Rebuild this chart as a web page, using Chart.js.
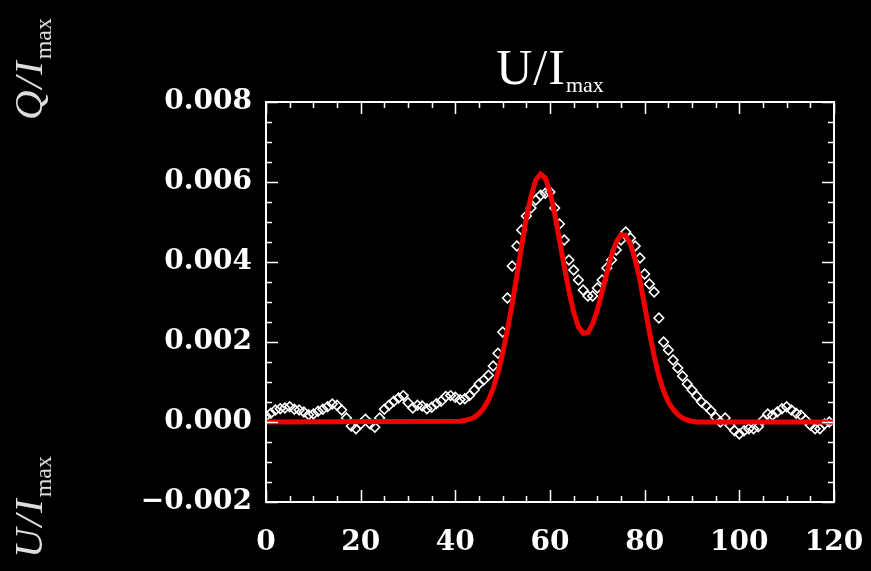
<!DOCTYPE html>
<html>
<head>
<meta charset="utf-8">
<script src="https://cdn.jsdelivr.net/npm/chart.js@4.4.1"></script>
<style>
  html, body { margin: 0; padding: 0; background: #000; }
  #wrap { position: relative; width: 871px; height: 571px; overflow: hidden; background: #000; }
  #chart { position: absolute; left: 0; top: 0; }
  .title {
    position: absolute; left: 266px; width: 568px; top: 42px; text-align: center;
    color: #fff; font-family: 'Liberation Serif', serif; font-size: 50px; line-height: 1;
    letter-spacing: 1px;
  }
  .title sub { font-size: 22px; vertical-align: -8px; letter-spacing: 0; }
  .side {
    position: absolute; transform: rotate(-90deg); transform-origin: 0 0;
    color: #ddd; font-family: 'Liberation Serif', serif; font-style: italic;
    font-size: 41px; line-height: 1; white-space: nowrap; letter-spacing: 2px;
  }
  .side sub { font-style: normal; font-size: 24px; vertical-align: -9px; letter-spacing: 0; }
</style>
</head>
<body>
<div id="wrap">
  <canvas id="chart" width="871" height="571"></canvas>
  <div class="title">U/I<sub>max</sub></div>
  <div class="side" style="left:8px; top:120px;">Q/I<sub>max</sub></div>
  <div class="side" style="left:8px; top:558px;">U/I<sub>max</sub></div>
</div>
<script>
  // observed U/Imax (diamonds), one per pixel position
  var obsX = [
    0, 1, 2, 3, 4, 5, 6, 7, 8, 9, 10, 11, 12, 13, 14, 15, 16, 17, 18, 19,
    20, 21, 22, 23, 24, 25, 26, 27, 28, 29, 30, 31, 32, 33, 34, 35, 36, 37, 38, 39,
    40, 41, 42, 43, 44, 45, 46, 47, 48, 49, 50, 51, 52, 53, 54, 55, 56, 57, 58, 59,
    60, 61, 62, 63, 64, 65, 66, 67, 68, 69, 70, 71, 72, 73, 74, 75, 76, 77, 78, 79,
    80, 81, 82, 83, 84, 85, 86, 87, 88, 89, 90, 91, 92, 93, 94, 95, 96, 97, 98, 99,
    100, 101, 102, 103, 104, 105, 106, 107, 108, 109, 110, 111, 112, 113, 114, 115, 116, 117, 118, 119
  ];
  var obsU = [
    0.00015, 0.00022, 0.00030, 0.00033, 0.00035, 0.00038, 0.00032, 0.00030, 0.00025, 0.00018,
    0.00020, 0.00027, 0.00032, 0.00038, 0.00045, 0.00042, 0.00030, 0.00010, -0.00010, -0.00017,
    -0.00005, 0.00007, -0.00005, -0.00013, 0.00010, 0.00032, 0.00042, 0.00052, 0.00060, 0.00066,
    0.00048, 0.00035, 0.00042, 0.00040, 0.00033, 0.00037, 0.00046, 0.00052, 0.00064, 0.00066,
    0.00062, 0.00056, 0.00058, 0.00066, 0.00080, 0.00095, 0.00105, 0.00117, 0.00140, 0.00172,
    0.00225, 0.00310, 0.00390, 0.00440, 0.00480, 0.00515, 0.00535, 0.00555, 0.00567, 0.00572,
    0.00575, 0.00535, 0.00495, 0.00455, 0.00405, 0.00380, 0.00355, 0.00330, 0.00315, 0.00315,
    0.00335, 0.00355, 0.00385, 0.00405, 0.00430, 0.00455, 0.00475, 0.00460, 0.00440, 0.00410,
    0.00370, 0.00345, 0.00325, 0.00260, 0.00200, 0.00180, 0.00155, 0.00135, 0.00115, 0.00095,
    0.00080, 0.00065, 0.00050, 0.00040, 0.00028, 0.00012, 0.00000, 0.00010, -0.00008, -0.00022,
    -0.00030, -0.00022, -0.00017, -0.00017, -0.00012, 0.00005, 0.00020, 0.00017, 0.00025, 0.00033,
    0.00038, 0.00030, 0.00022, 0.00017, 0.00005, -0.00008, -0.00017, -0.00017, -0.00005, 0.00000
  ];

  // fitted profile (red)
  var fitX = [
    0, 41, 42, 43, 44, 45, 46, 47, 48, 49, 50, 51, 52, 53, 54, 55, 56, 57, 58, 59,
    60, 61, 62, 63, 64, 65, 66, 67, 68, 69, 70, 71, 72, 73, 74, 75, 76, 77, 78, 79,
    80, 81, 82, 83, 84, 85, 86, 87, 88, 89, 90, 91, 120
  ];
  var fitU = [
    0, 0.00002, 0.00004, 0.00007, 0.00012, 0.00021, 0.00035, 0.00055, 0.00084, 0.00123,
    0.00172, 0.00230, 0.00295, 0.00365, 0.00440, 0.00510, 0.00565, 0.00605, 0.00620, 0.00610,
    0.00575, 0.00520, 0.00455, 0.00390, 0.00328, 0.00275, 0.00238, 0.00222, 0.00224, 0.00245,
    0.00280, 0.00325, 0.00372, 0.00417, 0.00450, 0.00468, 0.00466, 0.00445, 0.00405, 0.00355,
    0.00290, 0.00225, 0.00165, 0.00115, 0.00078, 0.00050, 0.00032, 0.00019, 0.00010, 0.00005,
    0.00002, 0, 0
  ];

  var xRange = [0, 120];
  var yRange = [-0.002, 0.008];

  function pairs(xs, ys) {
    return xs.map(function (x, i) { return { x: x, y: ys[i] }; });
  }

  function fmtY(v) {
    var s = Math.abs(v).toFixed(3);
    return (v < -1e-9 ? '\u2212' : '') + s;
  }

  // IDL-style box with inward major/minor ticks on all four sides
  var framePlugin = {
    id: 'frame',
    afterDatasetsDraw: function (chart) {
      var ctx = chart.ctx, a = chart.chartArea;
      var xs = chart.scales.x, ys = chart.scales.y;
      ctx.save();
      ctx.strokeStyle = '#fff';
      ctx.lineWidth = 2;
      ctx.strokeRect(a.left, a.top, a.right - a.left, a.bottom - a.top);
      ctx.lineWidth = 1.5;
      ctx.beginPath();
      var i, px, py, len;
      for (i = 0; i <= 24; i++) {
        px = Math.round(xs.getPixelForValue(xRange[0] + i * 5)) + 0.5;
        len = i % 4 === 0 ? 12 : 6;
        ctx.moveTo(px, a.bottom); ctx.lineTo(px, a.bottom - len);
        ctx.moveTo(px, a.top); ctx.lineTo(px, a.top + len);
      }
      for (i = 0; i <= 20; i++) {
        py = Math.round(ys.getPixelForValue(yRange[0] + i * 0.0005)) + 0.5;
        len = i % 4 === 0 ? 12 : 6;
        ctx.moveTo(a.left, py); ctx.lineTo(a.left + len, py);
        ctx.moveTo(a.right, py); ctx.lineTo(a.right - len, py);
      }
      ctx.stroke();
      ctx.restore();
    }
  };

  var tickFont = { family: "'DejaVu Serif', serif", size: 28, weight: 'bold' };

  new Chart(document.getElementById('chart').getContext('2d'), {
    type: 'scatter',
    data: {
      datasets: [
        {
          type: 'line',
          data: pairs(fitX, fitU),
          borderColor: '#f00000',
          borderWidth: 5,
          pointRadius: 0,
          tension: 0,
          fill: false,
          order: 0
        },
        {
          data: pairs(obsX, obsU),
          pointStyle: 'rectRot',
          pointRadius: 4.8,
          borderColor: '#ffffff',
          backgroundColor: 'rgba(0,0,0,0)',
          borderWidth: 1.6,
          order: 1
        }
      ]
    },
    options: {
      responsive: false,
      animation: false,
      devicePixelRatio: 1,
      layout: { padding: { top: 102, right: 37, left: 0, bottom: 0 } },
      plugins: { legend: { display: false }, tooltip: { enabled: false } },
      scales: {
        x: {
          type: 'linear',
          min: xRange[0], max: xRange[1],
          grid: { display: false, drawTicks: false },
          border: { display: false },
          ticks: { stepSize: 20, color: '#fff', font: tickFont, padding: 24, maxRotation: 0 },
          afterFit: function (s) {
            s.height = 69;
            s.paddingLeft = 0;
            s.paddingRight = 0;
          }
        },
        y: {
          type: 'linear',
          min: yRange[0], max: yRange[1],
          grid: { display: false, drawTicks: false },
          border: { display: false },
          ticks: {
            stepSize: 0.002, color: '#fff', font: tickFont, padding: 14,
            callback: function (v) { return fmtY(v); }
          },
          afterFit: function (s) {
            s.width = 266;
            s.paddingTop = 0;
            s.paddingBottom = 0;
          }
        }
      }
    },
    plugins: [framePlugin]
  });
</script>
</body>
</html>
